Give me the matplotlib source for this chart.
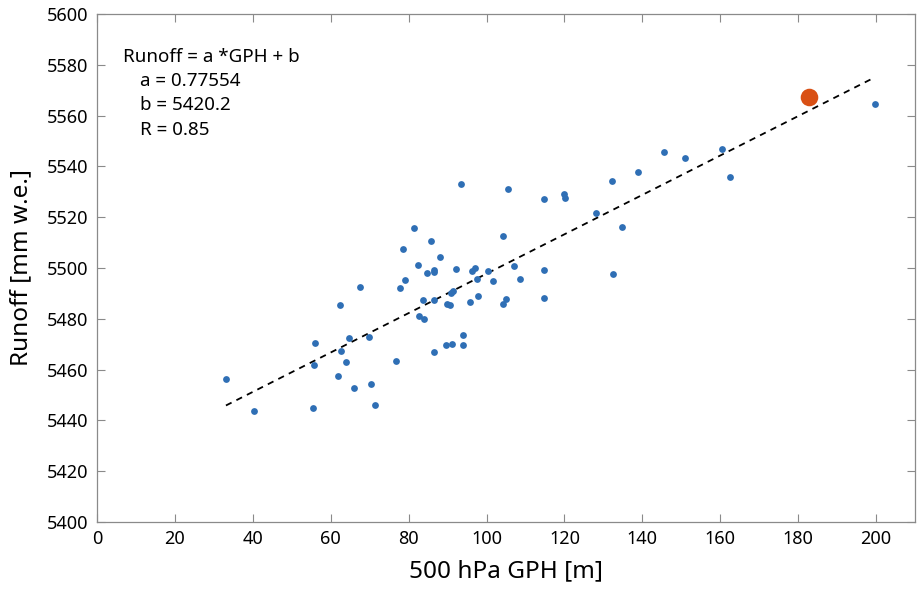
import matplotlib.pyplot as plt
import numpy as np

plt.rcParams['font.family'] = ['Noto Sans', 'DejaVu Sans']

# GPH anomaly [m] and runoff [mm w.e.] for each year
gph = [33.1, 40.3, 55.5, 56.0, 55.7, 62.4, 62.7, 61.9, 63.9, 64.7,
       66.0, 67.5, 69.8, 70.3, 71.4, 76.8, 77.8, 78.6, 79.1, 81.4,
       82.4, 82.7, 83.7, 83.9, 84.7, 85.8, 86.5, 86.5, 86.5, 86.5,
       88.1, 89.6, 89.9, 90.6, 90.9, 91.1, 91.4, 92.2, 93.5, 94.0,
       94.0, 95.8, 96.3, 97.0, 97.6, 97.8, 100.4, 101.7, 104.2, 104.2,
       105.0, 105.5, 107.1, 108.6, 114.8, 114.8, 114.8, 119.9, 120.2, 128.1,
       132.2, 132.5, 134.8, 138.9, 145.6, 151.0, 160.5, 162.5, 199.7]
runoff = [5456.3, 5443.6, 5444.9, 5470.5, 5461.9, 5485.4, 5467.5, 5457.5, 5463.0, 5472.5,
          5452.8, 5492.4, 5472.8, 5454.4, 5446.0, 5463.4, 5492.0, 5507.5, 5495.3, 5515.6,
          5501.0, 5481.2, 5487.4, 5480.0, 5498.0, 5510.5, 5499.3, 5498.3, 5487.4, 5466.9,
          5504.2, 5469.6, 5485.8, 5485.6, 5490.2, 5470.1, 5490.9, 5499.5, 5533.1, 5473.8,
          5469.6, 5486.6, 5498.7, 5500.0, 5495.7, 5489.1, 5498.8, 5494.8, 5512.6, 5485.8,
          5487.7, 5531.0, 5500.7, 5495.5, 5527.2, 5499.1, 5488.0, 5529.3, 5527.7, 5521.7,
          5534.4, 5497.6, 5516.2, 5537.7, 5545.7, 5543.2, 5546.8, 5535.7, 5564.5]

# highlighted year
gph_hl = 182.9
runoff_hl = 5567.3

# regression
a = 0.77554
b = 5420.2
R = 0.85

fig = plt.figure(figsize=(9.17, 5.89), dpi=100)
ax = fig.add_axes([97 / 917, 1 - 522 / 589, 818 / 917, 508 / 589])

xfit = np.array([min(gph), max(gph) - 1])
ax.plot(xfit, a * xfit + b, '--', color='k', lw=1.3, dashes=(3.5, 3))
ax.scatter(gph, runoff, s=24, color='#2f6fb5', zorder=3, linewidths=0)
ax.scatter([gph_hl], [runoff_hl], s=160, color='#d95015', zorder=4, linewidths=0)

ax.set_xlim(0, 210)
ax.set_ylim(5400, 5600)
ax.set_xticks(np.arange(0, 201, 20))
ax.set_yticks(np.arange(5400, 5601, 20))
ax.tick_params(direction='in', top=True, right=True, length=6, width=0.8,
               color='#8a8a8a', labelsize=13, pad=6)
for lab in ax.get_xticklabels() + ax.get_yticklabels():
    lab.set_fontweight('medium')
for s in ax.spines.values():
    s.set_color('#8a8a8a')
    s.set_linewidth(0.9)

ax.set_xlabel('500 hPa GPH [m]', fontsize=17.5, labelpad=8)
ax.set_ylabel('Runoff [mm w.e.]', fontsize=17.5, labelpad=10)

fs = 13.5
ax.text(6.6, 5583, 'Runoff = a *GPH + b', fontsize=fs, va='center', fontweight='medium')
ax.text(11, 5573.5, f'a = {a}', fontsize=fs, va='center', fontweight='medium')
ax.text(11, 5564, f'b = {b}', fontsize=fs, va='center', fontweight='medium')
ax.text(11, 5554.5, f'R = {R}', fontsize=fs, va='center', fontweight='medium')

fig.savefig('out.png', dpi=100)
